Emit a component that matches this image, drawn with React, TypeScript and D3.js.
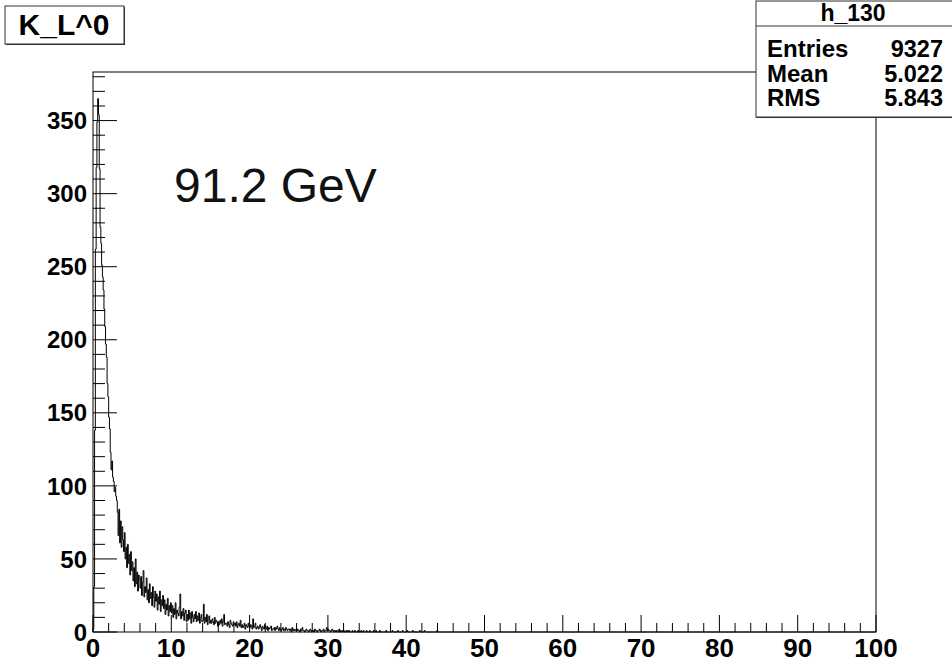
import React from "react";
import * as d3 from "d3";

// Histogram h_130: 1000 bins of width 0.1 over [0, 100]; bins not listed are empty.
const BIN_WIDTH = 0.1;
const X_DOMAIN: [number, number] = [0, 100];
const N_BINS = 1000;

// bin contents, 10 bins per unit of x
const counts0to5 = [
  2, 31, 138, 262, 318, 349, 365, 354, 317, 277,
  266, 251, 243, 234, 221, 209, 197, 188, 170, 161,
  147, 139, 123, 111, 117, 106, 103, 96, 99, 93,
  90, 82, 66, 84, 61, 76, 58, 72, 63, 55,
  68, 50, 58, 44, 60, 47, 53, 39, 55, 42,
];
const counts5to10 = [
  48, 35, 44, 31, 50, 33, 41, 28, 39, 36,
  30, 38, 25, 34, 42, 24, 31, 27, 37, 22,
  29, 20, 33, 23, 27, 18, 31, 24, 17, 28,
  21, 26, 15, 24, 19, 28, 14, 22, 18, 25,
  16, 22, 12, 19, 15, 23, 11, 18, 14, 20,
];
const counts10to20 = [
  13, 18, 10, 16, 12, 20, 9, 15, 13, 11,
  17, 26, 9, 14, 11, 16, 8, 13, 15, 7,
  12, 8, 15, 9, 13, 6, 14, 10, 7, 12,
  9, 14, 7, 11, 8, 13, 6, 10, 12, 7,
  8, 19, 6, 10, 7, 12, 5, 9, 11, 6,
  8, 6, 9, 7, 5, 10, 6, 8, 7, 4,
  7, 5, 8, 6, 9, 4, 7, 12, 5, 6,
  6, 4, 7, 5, 3, 8, 6, 5, 4, 7,
  5, 6, 4, 7, 3, 5, 6, 4, 8, 3,
  5, 3, 4, 6, 2, 5, 4, 3, 6, 4,
];
const counts20to30 = [
  3, 5, 4, 2, 9, 3, 4, 6, 2, 3,
  4, 2, 3, 5, 3, 1, 4, 3, 2, 5,
  3, 2, 4, 1, 3, 2, 3, 4, 1, 2,
  2, 3, 1, 3, 2, 4, 2, 1, 3, 2,
  1, 2, 3, 1, 2, 1, 3, 2, 1, 2,
  2, 1, 2, 0, 3, 1, 2, 1, 1, 2,
  1, 2, 1, 1, 0, 2, 1, 3, 1, 1,
  0, 1, 2, 1, 1, 0, 1, 2, 1, 0,
  1, 1, 0, 2, 1, 1, 0, 1, 1, 2,
  1, 0, 1, 1, 2, 0, 1, 1, 3, 1,
];
const counts30to45 = [
  2, 1, 1, 0, 1, 2, 1, 0, 1, 1,
  0, 1, 1, 0, 2, 0, 1, 0, 1, 0,
  1, 0, 0, 1, 0, 1, 0, 1, 0, 0,
  0, 1, 0, 0, 1, 0, 0, 0, 1, 0,
  0, 0, 1, 0, 0, 1, 0, 0, 0, 1,
  0, 0, 0, 1, 0, 0, 0, 0, 1, 0,
  0, 1, 0, 0, 0, 0, 1, 0, 0, 0,
  0, 0, 0, 0, 1, 0, 0, 0, 0, 0,
  0, 0, 1, 0, 0, 0, 0, 0, 0, 1,
  0, 0, 0, 0, 0, 1, 0, 0, 0, 0,
  0, 1, 0, 0, 0, 0, 0, 0, 1, 0,
  0, 0, 0, 0, 0, 0, 0, 1, 0, 0,
  0, 0, 0, 1, 0, 0, 0, 0, 0, 0,
  0, 0, 0, 0, 0, 0, 0, 0, 0, 1,
  0, 0, 0, 0, 0, 0, 0, 0, 0, 0,
];

const xTickLabels = [0, 10, 20, 30, 40, 50, 60, 70, 80, 90, 100];
const yTickLabels = [0, 50, 100, 150, 200, 250, 300, 350];
const histTitle = "K_L^0";
const energyLabel = "91.2 GeV";
const statsName = "h_130";
const statsLabels = ["Entries", "Mean", "RMS"];
const statsValues = ["9327", "5.022", "5.843"];

const W = 952;
const H = 664;
const FRAME = { left: 93, right: 876, top: 72, bottom: 632 };
const FONT = "'Liberation Sans', Arial, Helvetica, sans-serif";

export default function App() {
  const filled = [...counts0to5, ...counts5to10, ...counts10to20, ...counts20to30, ...counts30to45];
  const counts = Array.from({ length: N_BINS }, (_, i) => (i < filled.length ? filled[i] : 0));
  const yMax = (d3.max(counts) as number) * 1.05;

  const x = d3.scaleLinear().domain(X_DOMAIN).range([FRAME.left, FRAME.right]);
  const y = d3.scaleLinear().domain([0, yMax]).range([FRAME.bottom, FRAME.top]);

  // step outline of the histogram
  const pts: [number, number][] = [[x(0), y(0)]];
  counts.forEach((c, i) => {
    pts.push([x(i * BIN_WIDTH), y(c)]);
    pts.push([x((i + 1) * BIN_WIDTH), y(c)]);
  });
  const histPath = d3.line()(pts) as string;

  const xMinor = d3.range(0, 100.001, 2).filter((v) => v % 10 !== 0);
  const yMinor = d3.range(0, yMax, 10).filter((v) => v % 50 !== 0);

  const statsX = 756;
  const statsRight = 943;

  return (
    <svg
      width={W}
      height={H}
      style={{ position: "fixed", left: 0, top: 0, background: "#fff" }}
      fontFamily={FONT}
    >
      <rect x={0} y={0} width={W} height={H} fill="#fff" />

      {/* histogram */}
      <path d={histPath} fill="none" stroke="#000" strokeWidth={1} />

      {/* frame */}
      <rect
        x={FRAME.left}
        y={FRAME.top}
        width={FRAME.right - FRAME.left}
        height={FRAME.bottom - FRAME.top}
        fill="none"
        stroke="#000"
        strokeWidth={1}
      />

      {/* x axis ticks */}
      {xTickLabels.map((v) => (
        <line key={"xM" + v} x1={x(v)} x2={x(v)} y1={FRAME.bottom} y2={FRAME.bottom - 17} stroke="#000" />
      ))}
      {xMinor.map((v) => (
        <line key={"xm" + v} x1={x(v)} x2={x(v)} y1={FRAME.bottom} y2={FRAME.bottom - 9} stroke="#000" />
      ))}
      {xTickLabels.map((v) => (
        <text key={"xl" + v} x={x(v)} y={657} textAnchor="middle" fontSize={26} fontWeight="bold">
          {v}
        </text>
      ))}

      {/* y axis ticks */}
      {yTickLabels.map((v) => (
        <line key={"yM" + v} x1={FRAME.left} x2={FRAME.left + 24} y1={y(v)} y2={y(v)} stroke="#000" />
      ))}
      {yMinor.map((v) => (
        <line key={"ym" + v} x1={FRAME.left} x2={FRAME.left + 12} y1={y(v)} y2={y(v)} stroke="#000" />
      ))}
      {yTickLabels.map((v) => (
        <text
          key={"yl" + v}
          x={87}
          y={y(v)}
          dy="0.36em"
          textAnchor="end"
          fontSize={24}
          fontWeight="bold"
        >
          {v}
        </text>
      ))}

      {/* energy label */}
      <text x={174} y={202} fontSize={48} fill="#111">
        {energyLabel}
      </text>

      {/* title box */}
      <rect x={5} y={6} width={119} height={38} fill="#fff" stroke="#333" strokeWidth={1} />
      <line x1={6} x2={125} y1={44.5} y2={44.5} stroke="#333" strokeWidth={1} />
      <line x1={124.5} x2={124.5} y1={7} y2={45} stroke="#333" strokeWidth={1} />
      <text x={64} y={35} textAnchor="middle" fontSize={30} fontWeight="bold">
        {histTitle}
      </text>

      {/* statistics box */}
      <rect x={statsX} y={1} width={W - statsX + 5} height={116} fill="#fff" stroke="#333" strokeWidth={1} />
      <line x1={statsX} x2={W} y1={117.5} y2={117.5} stroke="#333" strokeWidth={1} />
      <line x1={statsX} x2={W} y1={26} y2={26} stroke="#333" strokeWidth={1} />
      <text x={853} y={21} textAnchor="middle" fontSize={23} fontWeight="bold">
        {statsName}
      </text>
      {statsLabels.map((label, i) => (
        <g key={label}>
          <text x={767} y={57 + i * 24.5} fontSize={24} fontWeight="bold">
            {label}
          </text>
          <text x={statsRight} y={57 + i * 24.5} textAnchor="end" fontSize={23.5} fontWeight="bold">
            {statsValues[i]}
          </text>
        </g>
      ))}
    </svg>
  );
}
